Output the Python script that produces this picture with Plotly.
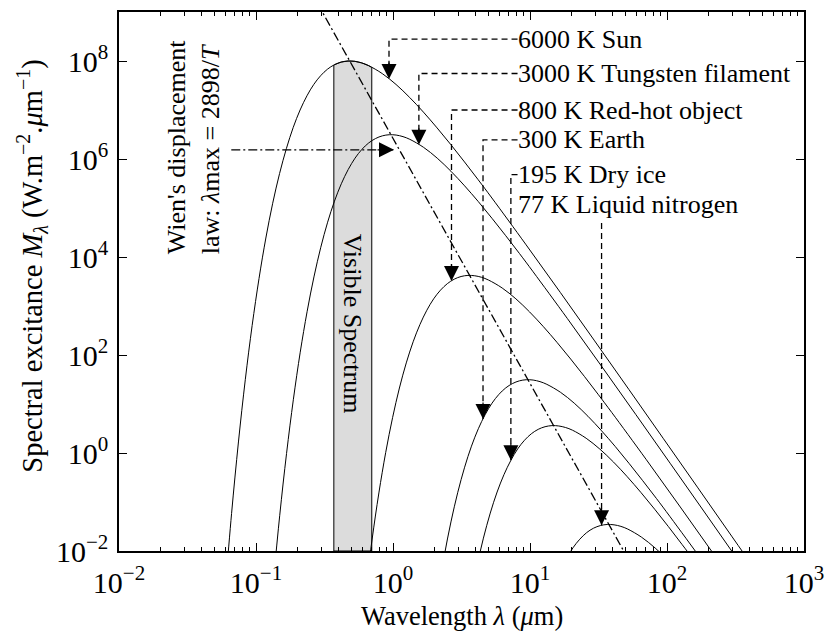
import numpy as np
import plotly.graph_objects as go

# ---------------- data ----------------
lam_6000 = [0.05913, 0.06635, 0.07445, 0.08353, 0.09372, 0.1052, 0.1180, 0.1324, 0.1486, 0.1667,
            0.1870, 0.2098, 0.2355, 0.2642, 0.2963, 0.3325, 0.3732, 0.4187, 0.4697, 0.5270,
            0.5913, 0.6635, 0.8353, 1.052, 1.324, 1.667, 2.098, 2.642, 3.326, 4.187,
            5.271, 9.372, 16.67, 29.64, 52.70, 93.72, 166.7, 296.4, 527.0]
M_6000 = [1.27e-3, 5.86e-2, 1.68, 31.3, 399, 3.64e3, 2.44e4, 1.25e5, 5.05e5, 1.64e6,
          4.42e6, 1.00e7, 1.95e7, 3.33e7, 5.01e7, 6.81e7, 8.39e7, 9.51e7, 1.00e8, 9.84e7,
          9.14e7, 8.05e7, 5.53e7, 3.32e7, 1.80e7, 9.06e6, 4.31e6, 1.97e6, 8.71e5, 3.77e5,
          1.60e5, 1.77e4, 1.88e3, 194, 19.8, 2.00, 0.201, 2.01e-2, 2.02e-3]

lam_3000 = [0.1327, 0.1489, 0.1671, 0.1875, 0.2103, 0.2360, 0.2648, 0.2971, 0.3333, 0.3740,
            0.4197, 0.4710, 0.5283, 0.5927, 0.6650, 0.7463, 0.8373, 0.9393, 1.054, 1.183,
            1.327, 1.671, 2.103, 2.648, 3.333, 4.196, 5.283, 6.651, 8.373, 10.54,
            18.74, 33.33, 59.28, 105.4, 187.5, 333.3, 592.8]
M_3000 = [1.83e-3, 5.25e-2, 0.979, 12.5, 114, 764, 3.92e3, 1.58e4, 5.13e4, 1.38e5,
          3.13e5, 6.10e5, 1.04e6, 1.57e6, 2.13e6, 2.62e6, 2.97e6, 3.13e6, 3.08e6, 2.86e6,
          2.52e6, 1.73e6, 1.04e6, 5.62e5, 2.83e5, 1.35e5, 6.15e4, 2.72e4, 1.18e4, 4.99e3,
          555, 58.7, 6.07, 0.618, 6.25e-2, 6.28e-3, 6.30e-4]

lam_800 = [0.6265, 0.7029, 0.7888, 0.8849, 0.9929, 1.114, 1.250, 1.403, 1.574, 1.766,
           1.981, 2.223, 2.494, 2.799, 3.140, 3.523, 3.953, 4.435, 4.976, 6.265,
           7.888, 9.929, 12.50, 15.74, 19.81, 24.94, 31.40, 39.53, 70.29, 125.0,
           222.3, 395.3]
M_800 = [1.32e-3, 1.68e-2, 0.153, 1.03, 5.27, 21.2, 69.0, 186, 421, 820,
         1.40e3, 2.11e3, 2.86e3, 3.53e3, 4.00e3, 4.21e3, 4.14e3, 3.85e3, 3.39e3, 2.33e3,
         1.40e3, 757, 381, 181, 82.8, 36.6, 15.8, 6.71, 0.746, 7.91e-2,
         8.17e-3, 8.32e-4]

lam_300 = [2.103, 2.360, 2.648, 2.971, 3.333, 3.740, 4.197, 4.710, 5.283, 5.927,
           6.650, 7.463, 8.373, 9.393, 10.54, 11.83, 13.27, 16.71, 21.03, 26.48,
           33.33, 41.96, 52.83, 66.51, 83.73, 105.4, 187.4, 333.3]
M_300 = [1.14e-3, 7.64e-3, 3.92e-2, 0.158, 0.513, 1.38, 3.13, 6.10, 10.4, 15.7,
         21.3, 26.2, 29.7, 31.3, 30.8, 28.6, 25.2, 17.3, 10.4, 5.62,
         2.83, 1.35, 0.615, 0.272, 0.118, 4.99e-2, 5.55e-3, 5.87e-4]

lam_195 = [3.630, 4.073, 4.571, 5.128, 5.754, 6.456, 7.246, 8.128, 9.118, 10.23,
           11.48, 12.88, 14.45, 16.22, 18.19, 20.42, 25.70, 32.36, 40.73, 51.28,
           64.56, 81.28, 102.3, 128.8, 162.2, 288.4]
M_195 = [8.85e-4, 4.54e-3, 1.83e-2, 5.94e-2, 0.160, 0.362, 0.706, 1.21, 1.82, 2.47,
         3.04, 3.44, 3.62, 3.56, 3.31, 2.92, 2.00, 1.20, 0.652, 0.328,
         0.156, 7.13e-2, 3.16e-2, 1.36e-2, 5.78e-3, 6.43e-4]

lam_77 = [14.57, 16.35, 18.35, 20.58, 23.09, 25.91, 29.08, 32.62, 36.60, 41.06,
          46.08, 51.70, 65.09, 81.95, 103.2, 129.9, 163.5]
M_77 = [1.53e-3, 3.48e-3, 6.78e-3, 1.16e-2, 1.74e-2, 2.37e-2, 2.92e-2, 3.30e-2, 3.48e-2, 3.42e-2,
        3.18e-2, 2.80e-2, 1.92e-2, 1.15e-2, 6.25e-3, 3.15e-3, 1.50e-3]

# Wien's displacement line (passes through the peaks)
wien_lam = [0.28, 0.483, 0.966, 3.62, 9.66, 14.86, 37.6, 55.0]
wien_M = [1.53e9, 1.00e8, 3.13e6, 4.21e3, 31.3, 3.62, 3.48e-2, 5.22e-3]

# visible band (edges and the 6000 K curve between them)
vis_lam = [0.37, 0.3732, 0.4187, 0.4697, 0.5270, 0.5913, 0.6635, 0.70, 0.70, 0.37, 0.37]
vis_M = [8.26e7, 8.39e7, 9.51e7, 1.00e8, 9.84e7, 9.14e7, 8.05e7, 7.38e7, 1e-2, 1e-2, 8.26e7]

# labels: text, text-row height, corner wavelength, arrow-tip value on the curve
labels = ["6000 K Sun", "3000 K Tungsten filament", "800 K Red-hot object",
          "300 K Earth", "195 K Dry ice", "77 K Liquid nitrogen"]
label_M = [2.79e8, 5.56e7, 1.00e7, 2.46e6, 4.79e5, 1.17e5]
corner_lam = [0.935, 1.545, 2.673, 4.54, 7.25, 33.3]
tip_M = [4.30e7, 1.96e6, 3.25e3, 4.92, 0.708, 3.34e-2]
text_lam = 8.11
start77_M = 4.95e4

wien_arrow_lam = [0.066, 1.017]
wien_arrow_M = 1.54e6

x_tickvals = [1e-2, 1e-1, 1, 1e1, 1e2, 1e3]
x_ticktext = ["10<sup>−2</sup>", "10<sup>−1</sup>", "10<sup>0</sup>", "10<sup>1</sup>",
              "10<sup>2</sup>", "10<sup>3</sup>"]
y_tickvals = [1e-2, 1, 1e2, 1e4, 1e6, 1e8]
y_ticktext = ["10<sup>−2</sup>", "10<sup>0</sup>", "10<sup>2</sup>", "10<sup>4</sup>",
              "10<sup>6</sup>", "10<sup>8</sup>"]

FONT = "Liberation Serif"
FS = 26        # annotation text
FS_TICK = 30   # tick labels
FS_XTITLE = 26.5
FS_YTITLE = 28.5

fig = go.Figure()

# visible band
fig.add_trace(go.Scatter(x=vis_lam, y=vis_M, mode="lines", fill="toself",
                         fillcolor="#dcdcdc", line=dict(color="black", width=1),
                         hoverinfo="skip", showlegend=False))

for lam, M in [(lam_6000, M_6000), (lam_3000, M_3000), (lam_800, M_800),
               (lam_300, M_300), (lam_195, M_195), (lam_77, M_77)]:
    fig.add_trace(go.Scatter(x=lam, y=M, mode="lines", line=dict(color="black", width=1, shape="spline"),
                             showlegend=False))

# Wien line
fig.add_trace(go.Scatter(x=wien_lam, y=wien_M, mode="lines",
                         line=dict(color="black", width=1.3, dash="9px,3px,2px,3px"),
                         showlegend=False))
# Wien horizontal arrow
fig.add_trace(go.Scatter(x=wien_arrow_lam, y=[wien_arrow_M, wien_arrow_M], mode="lines",
                         line=dict(color="black", width=1.3, dash="9px,3px,2px,3px"),
                         showlegend=False))

annotations = []
# dashed leader lines
for i, txt in enumerate(labels):
    if i < 5:
        xs = [text_lam, corner_lam[i], corner_lam[i]]
        ys = [label_M[i], label_M[i], tip_M[i]]
    else:
        xs = [corner_lam[i], corner_lam[i]]
        ys = [start77_M, tip_M[i]]
    fig.add_trace(go.Scatter(x=xs, y=ys, mode="lines",
                             line=dict(color="black", width=1.3, dash="6px,4px"),
                             showlegend=False))
    annotations.append(dict(x=np.log10(text_lam), y=np.log10(label_M[i]), xref="x", yref="y",
                            text=txt, showarrow=False, xanchor="left", yanchor="middle",
                            xshift=-2,
                            font=dict(family=FONT, size=FS, color="black")))
    annotations.append(dict(x=np.log10(corner_lam[i]), y=np.log10(tip_M[i]), xref="x", yref="y",
                            text="", showarrow=True, ax=0, ay=-18, arrowhead=2,
                            arrowsize=2.5, arrowwidth=1.2, arrowcolor="black"))

annotations.append(dict(x=np.log10(wien_arrow_lam[1]), y=np.log10(wien_arrow_M), xref="x", yref="y",
                        text="", showarrow=True, ax=-18, ay=0, arrowhead=2,
                        arrowsize=2.5, arrowwidth=1.2, arrowcolor="black"))

annotations.append(dict(x=np.log10(0.0351), y=6.255, xref="x", yref="y",
                        text="Wien's displacement<br>law: <i>λ</i>max = 2898/<i>T</i>",
                        showarrow=False, textangle=-90, align="left",
                        xanchor="center", yanchor="middle",
                        font=dict(family=FONT, size=FS, color="black")))
annotations.append(dict(x=np.log10(0.506), y=2.63, xref="x", yref="y",
                        text="Visible Spectrum", showarrow=False, textangle=90,
                        xanchor="center", yanchor="middle",
                        font=dict(family=FONT, size=FS, color="black")))

# axis titles
annotations.append(dict(x=0.5, y=-0.120, xref="paper", yref="paper",
                        text="Wavelength <i>λ</i> (<i>μ</i>m)", showarrow=False,
                        xanchor="center", yanchor="middle",
                        font=dict(family=FONT, size=FS_XTITLE, color="black")))
annotations.append(dict(x=-0.1275, y=0.5287, xref="paper", yref="paper",
                        text="Spectral excitance <i>M</i><sub><i>λ</i></sub> (W.m<sup>−2</sup>.<i>μ</i>m<sup>−1</sup>)",
                        showarrow=False, textangle=-90,
                        xanchor="center", yanchor="middle",
                        font=dict(family=FONT, size=FS_YTITLE, color="black")))

axis_common = dict(type="log", showgrid=False, zeroline=False, showline=True,
                   linecolor="black", linewidth=1.5, mirror="ticks", ticks="inside",
                   tickcolor="black", tickwidth=1, tickmode="array",
                   tickfont=dict(family=FONT, size=FS_TICK, color="black"))

fig.update_layout(
    width=834, height=632,
    margin=dict(l=119, r=27.5, t=10, b=81),
    paper_bgcolor="white", plot_bgcolor="white",
    showlegend=False,
    annotations=annotations,
    xaxis=dict(range=[-2, 3], tickvals=x_tickvals, ticktext=x_ticktext, ticklen=8,
               ticklabelstandoff=4,
               minor=dict(ticks="inside", ticklen=4, tickcolor="black", tickwidth=1,
                          showgrid=False, dtick="D1"),
               **axis_common),
    yaxis=dict(range=[-2, 9], tickvals=y_tickvals, ticktext=y_ticktext, ticklen=8,
               ticklabelstandoff=3,
               **axis_common),
)

fig.write_html("out.html")
